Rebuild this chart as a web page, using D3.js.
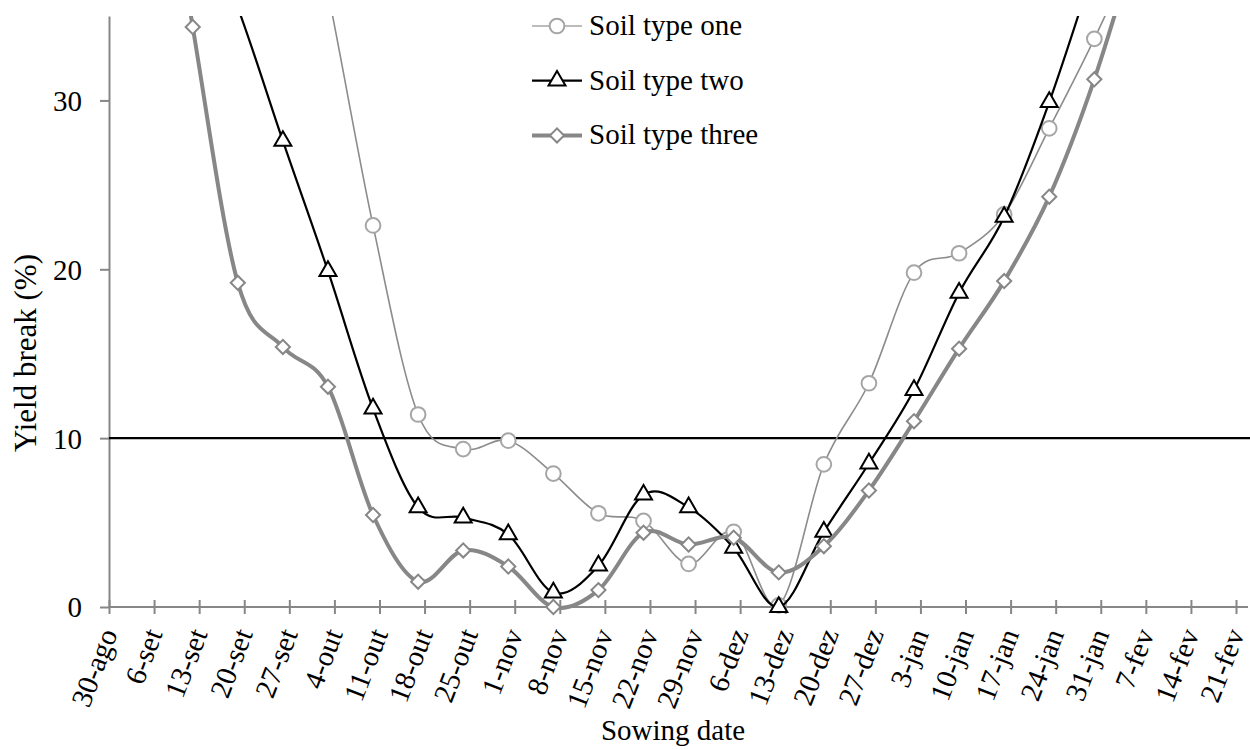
<!DOCTYPE html>
<html>
<head>
<meta charset="utf-8">
<script src="https://cdn.jsdelivr.net/npm/d3@7"></script>
<style>
	body { margin: 0; background: #fff; }
	svg { font-family: 'Liberation Serif', 'Times New Roman', serif; }
	.axis text { font-size: 29px; fill: #000; font-family: 'Liberation Serif', 'Times New Roman', serif; }
	.axis path, .axis line { stroke: #878787; stroke-width: 2; }
	.axis-label { font-size: 29px; fill: #000; }
	.legend-text { font-size: 29px; fill: #000; }
</style>
</head>
<body>
<svg id="chart-svg" width="1250" height="750"></svg>
<script>
// week ticks on the x axis
const TICK_LABELS = ['30-ago', '6-set', '13-set', '20-set', '27-set', '4-out', '11-out', '18-out', '25-out',
	'1-nov', '8-nov', '15-nov', '22-nov', '29-nov', '6-dez', '13-dez', '20-dez', '27-dez', '3-jan', '10-jan',
	'17-jan', '24-jan', '31-jan', '7-fev', '14-fev', '21-fev'];
const FIRST_TICK = '2014-08-30';

// sowing dates of the simulated points (one day before each tick)
const SOWING_DATES = ['2014-09-05', '2014-09-12', '2014-09-19', '2014-09-26', '2014-10-03', '2014-10-10',
	'2014-10-17', '2014-10-24', '2014-10-31', '2014-11-07', '2014-11-14', '2014-11-21', '2014-11-28',
	'2014-12-05', '2014-12-12', '2014-12-19', '2014-12-26', '2015-01-02', '2015-01-09', '2015-01-16',
	'2015-01-23', '2015-01-30', '2015-02-06'];

const SOIL_ONE = [null, null, null, 49, 36.4, 22.6, 11.4, 9.35, 9.85, 7.9, 5.55, 5.1, 2.55, 4.45, 0.1,
	8.45, 13.25, 19.8, 20.95, 23.25, 28.35, 33.65, 39.5];
const SOIL_TWO = [null, 42, 35.5, 27.6, 19.9, 11.75, 5.9, 5.3, 4.3, 0.85, 2.45, 6.65, 5.9, 3.5, 0,
	4.45, 8.5, 12.85, 18.6, 23.1, 29.9, 38, null];
const SOIL_THREE = [51, 34.35, 19.2, 15.4, 13.05, 5.45, 1.5, 3.35, 2.4, 0, 1.0, 4.4, 3.7, 4.1, 2.05,
	3.6, 6.9, 11.0, 15.3, 19.3, 24.3, 31.25, 40];

const Y_TICKS = [0, 10, 20, 30];
const Y_MAX = 35;
const THRESHOLD = 10;

const PADDING = { top: 16, bottom: 143, left: 109, right: 14 };

const svg = d3.select('#chart-svg');
const svgWidth = 1250;
const svgHeight = 750;

const parseDate = d3.utcParse('%Y-%m-%d');
const firstTick = parseDate(FIRST_TICK);
const tickDates = TICK_LABELS.map((d, i) => d3.utcDay.offset(firstTick, i * 7));

const xScale = d3.scaleUtc()
	.domain([tickDates[0], tickDates[tickDates.length - 1]])
	.range([PADDING.left, svgWidth - PADDING.right]);
const yScale = d3.scaleLinear().domain([0, Y_MAX]).range([svgHeight - PADDING.bottom, PADDING.top]);
const y0 = yScale(0);

// clip so curves leaving the top are cut at the plot edge
svg.append('defs').append('clipPath').attr('id', 'plot-clip')
	.append('rect')
	.attr('x', PADDING.left)
	.attr('y', PADDING.top)
	.attr('width', svgWidth - PADDING.left)
	.attr('height', svgHeight - PADDING.top);

// axes
const yAxis = d3.axisLeft(yScale).tickValues(Y_TICKS).tickSizeInner(9).tickSizeOuter(0).tickPadding(18);
const yAxisG = svg.append('g').attr('class', 'axis').attr('transform', 'translate(' + PADDING.left + ',0)').call(yAxis);
yAxisG.selectAll('text').attr('dy', '0.34em');

const xAxis = d3.axisBottom(xScale).tickValues(tickDates).tickSizeOuter(0).tickFormat('');
const xAxisG = svg.append('g').attr('class', 'axis').attr('transform', 'translate(0,' + y0 + ')').call(xAxis);
xAxisG.select('.domain').attr('d', 'M' + PADDING.left + ',0H' + (svgWidth - 2));
xAxisG.selectAll('.tick line').attr('y1', -7).attr('y2', 7);
xAxisG.selectAll('.tick').append('text')
	.attr('class', 'x-tick-label')
	.attr('text-anchor', 'end')
	.attr('dominant-baseline', 'central')
	.attr('transform', 'translate(-1,23) rotate(-69)')
	.attr('fill', '#000')
	.text((d, i) => TICK_LABELS[i]);

// threshold line
svg.append('line')
	.attr('x1', PADDING.left)
	.attr('x2', svgWidth)
	.attr('y1', yScale(THRESHOLD))
	.attr('y2', yScale(THRESHOLD))
	.attr('stroke', '#000')
	.attr('stroke-width', 2.2);

// series
const series = [
	{ name: 'Soil type one', values: SOIL_ONE, line: '#8c8c8c', width: 1.6, marker: d3.symbolCircle, size: 170, mstroke: '#a6a6a6', rotate: 0 },
	{ name: 'Soil type two', values: SOIL_TWO, line: '#000', width: 2.2, marker: d3.symbolTriangle, size: 125, mstroke: '#000', rotate: 0 },
	{ name: 'Soil type three', values: SOIL_THREE, line: '#878787', width: 4, marker: d3.symbolSquare, size: 100, mstroke: '#878787', rotate: 45 }
];

const lineGen = d3.line()
	.defined((d) => d.v != null)
	.x((d) => xScale(d.date))
	.y((d) => yScale(d.v))
	.curve(d3.curveCardinal.tension(0));

series.forEach((s) => {
	const pts = SOWING_DATES.map((d, i) => ({ date: parseDate(d), v: s.values[i] })).filter((d) => d.v != null);
	const g = svg.append('g');
	g.append('path')
		.datum(pts)
		.attr('clip-path', 'url(#plot-clip)')
		.attr('fill', 'none')
		.attr('stroke', s.line)
		.attr('stroke-width', s.width)
		.attr('d', lineGen);
	g.selectAll('path.marker')
		.data(pts.filter((d) => d.v <= Y_MAX))
		.enter()
		.append('path')
		.attr('class', 'marker')
		.attr('d', d3.symbol().type(s.marker).size(s.size))
		.attr('transform', (d) => 'translate(' + xScale(d.date) + ',' + yScale(d.v) + ') rotate(' + s.rotate + ')')
		.attr('fill', '#fff')
		.attr('stroke', s.mstroke)
		.attr('stroke-width', 2);
});

// legend
const legendG = svg.append('g').attr('transform', 'translate(532,26)');
series.forEach((s, i) => {
	const row = legendG.append('g').attr('transform', 'translate(0,' + i * 54.7 + ')');
	row.append('line').attr('x1', 0).attr('x2', 50).attr('y1', 0).attr('y2', 0)
		.attr('stroke', i === 0 ? '#a6a6a6' : s.line).attr('stroke-width', s.width);
	row.append('path')
		.attr('d', d3.symbol().type(s.marker).size(s.size))
		.attr('transform', 'translate(25,0) rotate(' + s.rotate + ')')
		.attr('fill', '#fff')
		.attr('stroke', s.mstroke)
		.attr('stroke-width', 2);
	row.append('text').attr('class', 'legend-text').attr('x', 57).attr('y', 9).text(s.name);
});

// axis titles
svg.append('text')
	.attr('class', 'axis-label')
	.attr('text-anchor', 'middle')
	.attr('transform', 'translate(36,353) rotate(-90)')
	.style('font-size', '31px')
	.text('Yield break (%)');
svg.append('text')
	.attr('class', 'axis-label')
	.attr('text-anchor', 'middle')
	.attr('x', 673)
	.attr('y', 740)
	.text('Sowing date');
</script>
</body>
</html>
